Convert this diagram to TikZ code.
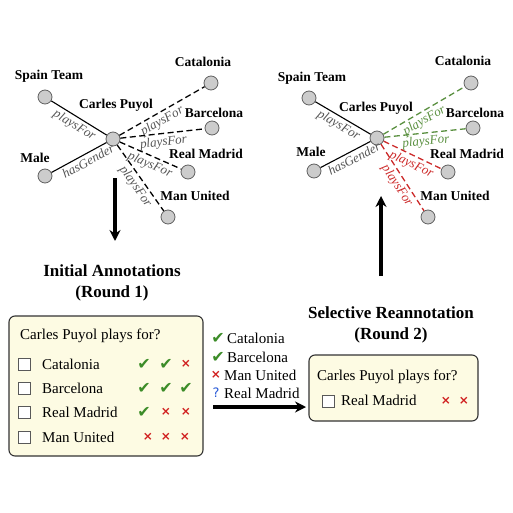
\documentclass[tikz,border=0pt]{standalone}
\usepackage{fontspec}
\setmainfont{Liberation Serif}
\newfontfamily\symf{DejaVu Sans}
\usetikzlibrary{arrows.meta}
\definecolor{okgreen}{HTML}{3C8C28}
\definecolor{nored}{HTML}{D01E1E}
\definecolor{qblue}{HTML}{2A5BD7}
\definecolor{boxfill}{HTML}{FDFBE3}
\definecolor{edgegray}{HTML}{555555}
\definecolor{lgreen}{HTML}{5A9040}
\definecolor{lred}{HTML}{CC2A2A}
\tikzset{
 ent/.style={circle, draw=gray!75!black, fill=gray!40, minimum size=14pt, inner sep=0pt, line width=0.8pt},
 entlabel/.style={font=\bfseries\fontsize{13.5}{15}\selectfont, inner sep=0pt},
 rel/.style={font=\itshape\fontsize{13}{14}\selectfont, text=edgegray, sloped, below, inner sep=2.5pt},
 soledge/.style={line width=1.1pt},
 dashedge/.style={line width=1.3pt, dash pattern=on 6pt off 3.5pt},
 title/.style={font=\bfseries\fontsize{17}{21}\selectfont, align=center, inner sep=0pt},
 body/.style={font=\fontsize{15}{18}\selectfont, inner sep=0pt, anchor=west},
 qbox/.style={draw=black!80, fill=boxfill, rounded corners=6pt, line width=1.1pt},
 cbox/.style={draw=black!65, fill=white, minimum size=12pt, inner sep=0pt, line width=0.8pt},
 okmark/.style={font=\symf\fontsize{16}{16}\selectfont, text=okgreen, inner sep=0pt},
 nomark/.style={font=\symf\bfseries\fontsize{12}{12}\selectfont, text=nored, inner sep=0pt},
 qmark/.style={font=\symf\fontsize{13}{13}\selectfont, text=qblue, inner sep=0pt},
 bigarrow/.style={line width=3.2pt, -{Stealth[length=11pt,width=11pt]}},
}
\begin{document}
\begin{tikzpicture}[x=1pt,y=-1pt]
\useasboundingbox (0,0) rectangle (512,513);
% ---------- left graph ----------
\node[ent] (lsp) at (45,97) {};
\node[ent] (lcp) at (113,139) {};
\node[ent] (lma) at (45,176) {};
\node[ent] (lca) at (211,83) {};
\node[ent] (lba) at (212,128) {};
\node[ent] (lrm) at (188,172) {};
\node[ent] (lmu) at (168,217) {};
\node[entlabel] (lspt) at (49,76) {Spain Team};
\node[entlabel] (lcpt) at (116,105) {Carles Puyol};
\node[entlabel] (lmat) at (35,158) {Male};
\node[entlabel] (lcat) at (203,62) {Catalonia};
\node[entlabel] (lbat) at (214,113) {Barcelona};
\node[entlabel] (lrmt) at (206,154) {Real Madrid};
\node[entlabel] (lmut) at (195,196) {Man United};
\draw[soledge] (lsp) -- node[rel] {playsFor} (lcp);
\draw[soledge] (lma) -- node[rel, pos=0.6] {hasGender} (lcp);
\draw[dashedge] (lcp) -- node[rel, pos=0.45] {playsFor} (lca);
\draw[dashedge] (lcp) -- node[rel] {playsFor} (lba);
\draw[dashedge] (lcp) -- node[rel, pos=0.55] {playsFor} (lrm);
\draw[dashedge] (lcp) -- node[rel, pos=0.55] {playsFor} (lmu);
% ---------- right graph ----------
\node[ent] (rsp) at (309,98) {};
\node[ent] (rcp) at (377,138) {};
\node[ent] (rma) at (314,171) {};
\node[ent] (rca) at (471,83) {};
\node[ent] (rba) at (473,128) {};
\node[ent] (rrm) at (448,172) {};
\node[ent] (rmu) at (428,217) {};
\node[entlabel] (rspt) at (312,78) {Spain Team};
\node[entlabel] (rcpt) at (376,108) {Carles Puyol};
\node[entlabel] (rmat) at (311,152) {Male};
\node[entlabel] (rcat) at (463,61) {Catalonia};
\node[entlabel] (rbat) at (475,113) {Barcelona};
\node[entlabel] (rrmt) at (467,154) {Real Madrid};
\node[entlabel] (rmut) at (455,196) {Man United};
\draw[soledge] (rsp) -- node[rel] {playsFor} (rcp);
\draw[soledge] (rma) -- node[rel, pos=0.6] {hasGender} (rcp);
\draw[dashedge, lgreen] (rcp) -- node[rel, text=lgreen, pos=0.45] {playsFor} (rca);
\draw[dashedge, lgreen] (rcp) -- node[rel, text=lgreen] {playsFor} (rba);
\draw[dashedge, lred] (rcp) -- node[rel, text=lred, pos=0.55] {playsFor} (rrm);
\draw[dashedge, lred] (rcp) -- node[rel, text=lred, pos=0.55] {playsFor} (rmu);
% ---------- vertical arrows ----------
\coordinate (dtop) at (115,178);
\coordinate (dbot) at (115,241);
\draw[bigarrow] (dtop) -- (dbot);
\coordinate (ubot) at (381,276);
\coordinate (utop) at (381,196);
\draw[bigarrow] (ubot) -- (utop);
% ---------- titles ----------
\node[title] (t1) at (112,283) {Initial Annotations\\(Round 1)};
\node[title] (t2) at (391,325) {Selective Reannotation\\(Round 2)};
% ---------- left box ----------
\draw[qbox] (9,316) rectangle (203,456);
\node[body] (q1) at (20,336) {Carles Puyol plays for?};
\foreach \i/\y/\t in {1/364/Catalonia, 2/388/Barcelona, 3/412/Real Madrid, 4/437/Man United}{
  \node[cbox] (cb\i) at (24,\y) {};
  \node[body] (opt\i) at (42,\y) {\t};
}
\node[okmark] (m11) at (144,364) {✔};
\node[okmark] (m12) at (166,364) {✔};
\node[nomark] (m13) at (186,364) {×};
\node[okmark] (m21) at (144,388) {✔};
\node[okmark] (m22) at (166,388) {✔};
\node[okmark] (m23) at (186,388) {✔};
\node[okmark] (m31) at (144,412) {✔};
\node[nomark] (m32) at (166,412) {×};
\node[nomark] (m33) at (186,412) {×};
\node[nomark] (m41) at (148,437) {×};
\node[nomark] (m42) at (166,437) {×};
\node[nomark] (m43) at (185,437) {×};
% ---------- middle list ----------
\node[okmark] (s1) at (218,338) {✔};
\node[body] (s1t) at (227,338) {Catalonia};
\node[okmark] (s2) at (218,357) {✔};
\node[body] (s2t) at (227,357) {Barcelona};
\node[nomark] (s3) at (216,375) {×};
\node[body] (s3t) at (224,375) {Man United};
\node[qmark] (s4) at (216,393) {?};
\node[body] (s4t) at (224,393) {Real Madrid};
\coordinate (hl) at (213,407);
\coordinate (hr) at (306,407);
\draw[bigarrow] (hl) -- (hr);
% ---------- right box ----------
\draw[qbox] (309,355) rectangle (478,421);
\node[body] (q2) at (317,377) {Carles Puyol plays for?};
\node[cbox] (rcb) at (328,401) {};
\node[body] (ropt) at (341,400) {Real Madrid};
\node[nomark] (rx1) at (446,401) {×};
\node[nomark] (rx2) at (464,401) {×};
\end{tikzpicture}
\end{document}
